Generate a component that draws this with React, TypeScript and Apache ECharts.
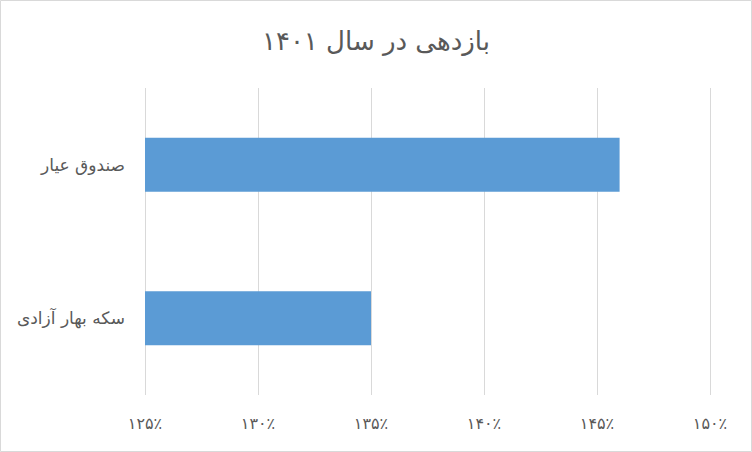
import React, { useEffect, useRef } from "react";
import * as echarts from "echarts";

const categories = ["سکه بهار آزادی", "صندوق عیار"];
const values = [135, 146];
const titleText = "بازدهی در سال ۱۴۰۱";
const persianDigits = ["۰", "۱", "۲", "۳", "۴", "۵", "۶", "۷", "۸", "۹"];

function toFa(n: number): string {
  return String(n).replace(/[0-9]/g, (d) => persianDigits[Number(d)]);
}

export default function App() {
  const ref = useRef<HTMLDivElement>(null);
  useEffect(() => {
    document.body.style.margin = "0";
    const chart = echarts.init(ref.current!, undefined, { renderer: "svg" });
    const font = "DejaVu Sans";
    chart.setOption({
      animation: false,
      backgroundColor: "#ffffff",
      title: {
        text: titleText,
        left: "center",
        top: 23,
        textStyle: { fontFamily: font, fontSize: 26, fontWeight: "normal", color: "#595959" },
      },
      graphic: [
        {
          type: "rect",
          shape: { x: 0.5, y: 0.5, width: 751, height: 451 },
          style: { fill: "none", stroke: "#d9d9d9", lineWidth: 1 },
          silent: true,
        },
      ],
      grid: { left: 145, right: 42, top: 88, bottom: 57 },
      xAxis: {
        type: "value",
        min: 125,
        max: 150,
        interval: 5,
        axisLine: { show: false },
        axisTick: { show: false },
        splitLine: { show: true, lineStyle: { color: "#d9d9d9", width: 1 } },
        axisLabel: {
          margin: 20,
          fontFamily: font,
          fontSize: 16,
          color: "#595959",
          formatter: (v: number) => toFa(v) + "٪",
        },
      },
      yAxis: {
        type: "category",
        data: categories,
        axisLine: { show: false },
        axisTick: { show: false },
        axisLabel: { margin: 20, fontFamily: font, fontSize: 17, color: "#595959" },
      },
      series: [
        {
          type: "bar",
          data: values,
          barWidth: 54,
          itemStyle: { color: "#5b9bd5" },
        },
      ],
    });
    return () => chart.dispose();
  }, []);
  return <div ref={ref} style={{ width: 752, height: 452 }} />;
}
